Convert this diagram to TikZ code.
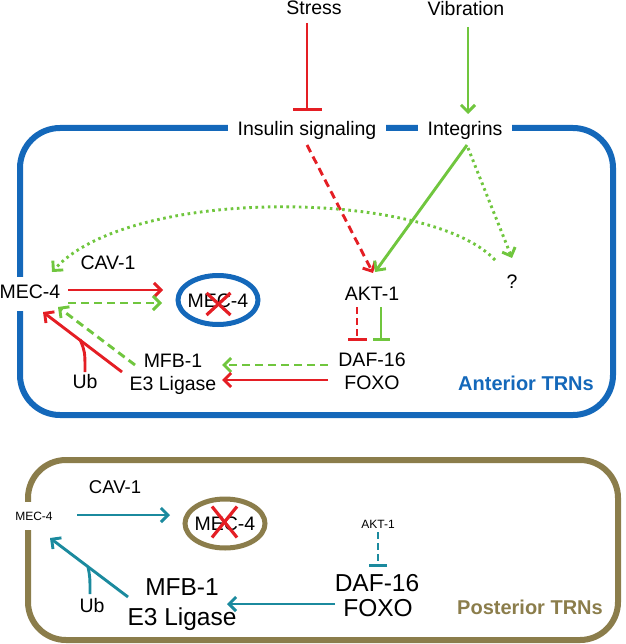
\documentclass[tikz,border=0pt]{standalone}
\usepackage{fontspec}
\setmainfont{Liberation Sans}
\usetikzlibrary{arrows.meta,shapes.geometric,calc}
\definecolor{cblue}{RGB}{20,104,186}
\definecolor{cred}{RGB}{228,30,36}
\definecolor{cgreen}{RGB}{112,198,62}
\definecolor{cteal}{RGB}{27,138,158}
\definecolor{ctan}{RGB}{139,125,75}
\begin{document}
\begin{tikzpicture}[x=1pt,y=-1pt,
  t/.style={font=\fontsize{19.5}{22}\selectfont, inner sep=1pt, text height=14pt, text depth=4pt},
  tbig/.style={font=\fontsize{24.5}{28}\selectfont, inner sep=1pt, text height=17.5pt, text depth=5pt},
  tsm/.style={font=\fontsize{12}{14}\selectfont, inner sep=1pt, text height=8.6pt, text depth=0pt},
  tag/.style={font=\fontsize{20}{24}\selectfont\bfseries, inner sep=1pt},
  ellnode/.style={ellipse, line width=5pt, inner sep=0pt, minimum width=80pt, minimum height=49pt,
                  font=\fontsize{19.5}{22}\selectfont, text height=14pt, text depth=0pt},
  arr/.style={line width=2.9pt, -{Straight Barb[length=7pt,width=14pt]}},
  teebar/.style={line width=2.9pt, -{Bar[width=#1]}},
  dashln/.style={dash pattern=on 8pt off 5pt},
  dotln/.style={dash pattern=on 2.6pt off 3.6pt},
  crossln/.style={cred, line width=3.2pt}
]
\useasboundingbox (0,0) rectangle (625,644);

% compartments
\draw[cblue, line width=6pt, rounded corners=40pt] (20,128) rectangle (613,415);
\draw[ctan, line width=6pt, rounded corners=38pt] (28,460) rectangle (618,640);

% ---------- top / anterior nodes ----------
\node[t] (stress) at (314,10) {Stress};
\node[t] (vib) at (466,11) {Vibration};
\node[t, fill=white, inner xsep=10pt, inner ysep=3pt] (insulin) at (307,131) {Insulin signaling};
\node[t, fill=white, inner xsep=10pt, inner ysep=3pt] (integ) at (465,131) {Integrins};
\node[t, fill=white, inner xsep=3pt, inner ysep=8pt] (mecA) at (30,293.5) {MEC-4};
\node[t] (cavA) at (108,264) {CAV-1};
\node[ellnode, draw=cblue] (ellA) at (218,300) {\makebox[0pt]{MEC-4}};
\node[t] (aktA) at (372,295) {AKT-1};
\node[t] (dafA) at (372,361) {DAF-16};
\node[t] (foxoA) at (372,384.5) {FOXO};
\node[t] (mfbA) at (173,362) {MFB-1};
\node[t] (e3A) at (173,385) {E3 Ligase};
\node[t] (ubA) at (85,383.5) {Ub};
\node[t] (q) at (512,283) {?};
\node[tag, text=cblue] (antA) at (526,383.5) {Anterior TRNs};

% red cross anterior
\draw[crossln] ($(ellA)+(-11.5,-7)$) -- ($(ellA)+(12.5,15)$);
\draw[crossln] ($(ellA)+(12.5,-7)$) -- ($(ellA)+(-11.5,15)$);

% ---------- anterior connectors ----------
\draw[cred, teebar=29pt] ($(stress)+(-7,13)$) -- ($(insulin)+(0,-20)$);
\draw[cgreen, arr] ($(vib)+(2,16)$) -- ($(integ)+(3,-17)$);
\draw[cred, arr, dashln] ($(insulin)+(0,14)$) -- ($(aktA)+(1,-22)$);
\draw[cgreen, arr] ($(integ)+(2,14)$) -- ($(aktA)+(3,-23)$);
\draw[cgreen, arr, dotln] ($(integ)+(3,17)$) -- ($(q)+(0,-25)$);
\draw[cgreen, arr, dotln] ($(q)+(-17,-23)$) .. controls (430,190) and (130,185) .. ($(mecA)+(22,-21.5)$);
\draw[cred, arr] ($(mecA)+(38,-3.5)$) -- ($(ellA)+(-55,-10)$);
\draw[cgreen, arr, dashln] ($(mecA)+(38,9.5)$) -- ($(ellA)+(-56,3)$);
\draw[cgreen, arr, dashln] ($(mfbA)+(-38,3)$) -- ($(mecA)+(28,13.5)$);
\draw[cred, arr] ($(e3A)+(-51,-13)$) -- ($(mecA)+(13,18.5)$);
\draw[cred, line width=2.9pt] ($(ubA)+(0,-11.5)$) .. controls ($(ubA)+(0,-32)$) .. ($(ubA)+(-5,-44)$);
\draw[cgreen, arr, dashln] ($(dafA)+(-44,4)$) -- ($(e3A)+(49,-20)$);
\draw[cred, arr] ($(foxoA)+(-44,-4.5)$) -- ($(e3A)+(49,-5)$);
\draw[cred, teebar=19pt, dash pattern=on 7pt off 4pt] ($(aktA)+(-15,12)$) -- ($(dafA)+(-15,-20)$);
\draw[cgreen, teebar=17pt] ($(aktA)+(9,12)$) -- ($(dafA)+(9,-20)$);

% ---------- posterior nodes ----------
\node[tsm, fill=white, inner xsep=2pt, inner ysep=10pt] (mecP) at (34,516) {MEC-4};
\node[t, font=\fontsize{18.5}{22}\selectfont] (cavP) at (115,488.5) {CAV-1};
\node[ellnode, draw=ctan] (ellP) at (225,523.5) {\makebox[0pt]{MEC-4}};
\node[tsm] (aktP) at (378,524) {AKT-1};
\node[tbig, text depth=0pt] (dafP) at (377,583) {DAF-16};
\node[tbig, text depth=0pt] (foxoP) at (378,607.5) {FOXO};
\node[tbig] (mfbP) at (182,589.5) {MFB-1};
\node[tbig] (e3P) at (182,619.5) {E3 Ligase};
\node[t] (ubP) at (92,607) {Ub};
\node[tag, text=ctan] (postP) at (530,607.5) {Posterior TRNs};

% red cross posterior
\draw[crossln] ($(ellP)+(-13,-17)$) -- ($(ellP)+(12,14)$);
\draw[crossln] ($(ellP)+(12,-17)$) -- ($(ellP)+(-13,14)$);

% ---------- posterior connectors ----------
\draw[cteal, arr] ($(mecP)+(43,-1)$) -- ($(ellP)+(-55,-8.5)$);
\draw[cteal, arr] ($(e3P)+(-54,-22.5)$) -- ($(mecP)+(16,22)$);
\draw[cteal, line width=2.9pt] ($(ubP)+(-2,-13)$) .. controls ($(ubP)+(-2,-30)$) .. ($(ubP)+(-4,-40)$);
\draw[cteal, arr] ($(foxoP)+(-43,-3.5)$) -- ($(mfbP)+(45,14.5)$);
\draw[cteal, teebar=18pt, dash pattern=on 7pt off 4pt] ($(aktP)+(0,8)$) -- ($(dafP)+(1,-16)$);
\end{tikzpicture}
\end{document}
